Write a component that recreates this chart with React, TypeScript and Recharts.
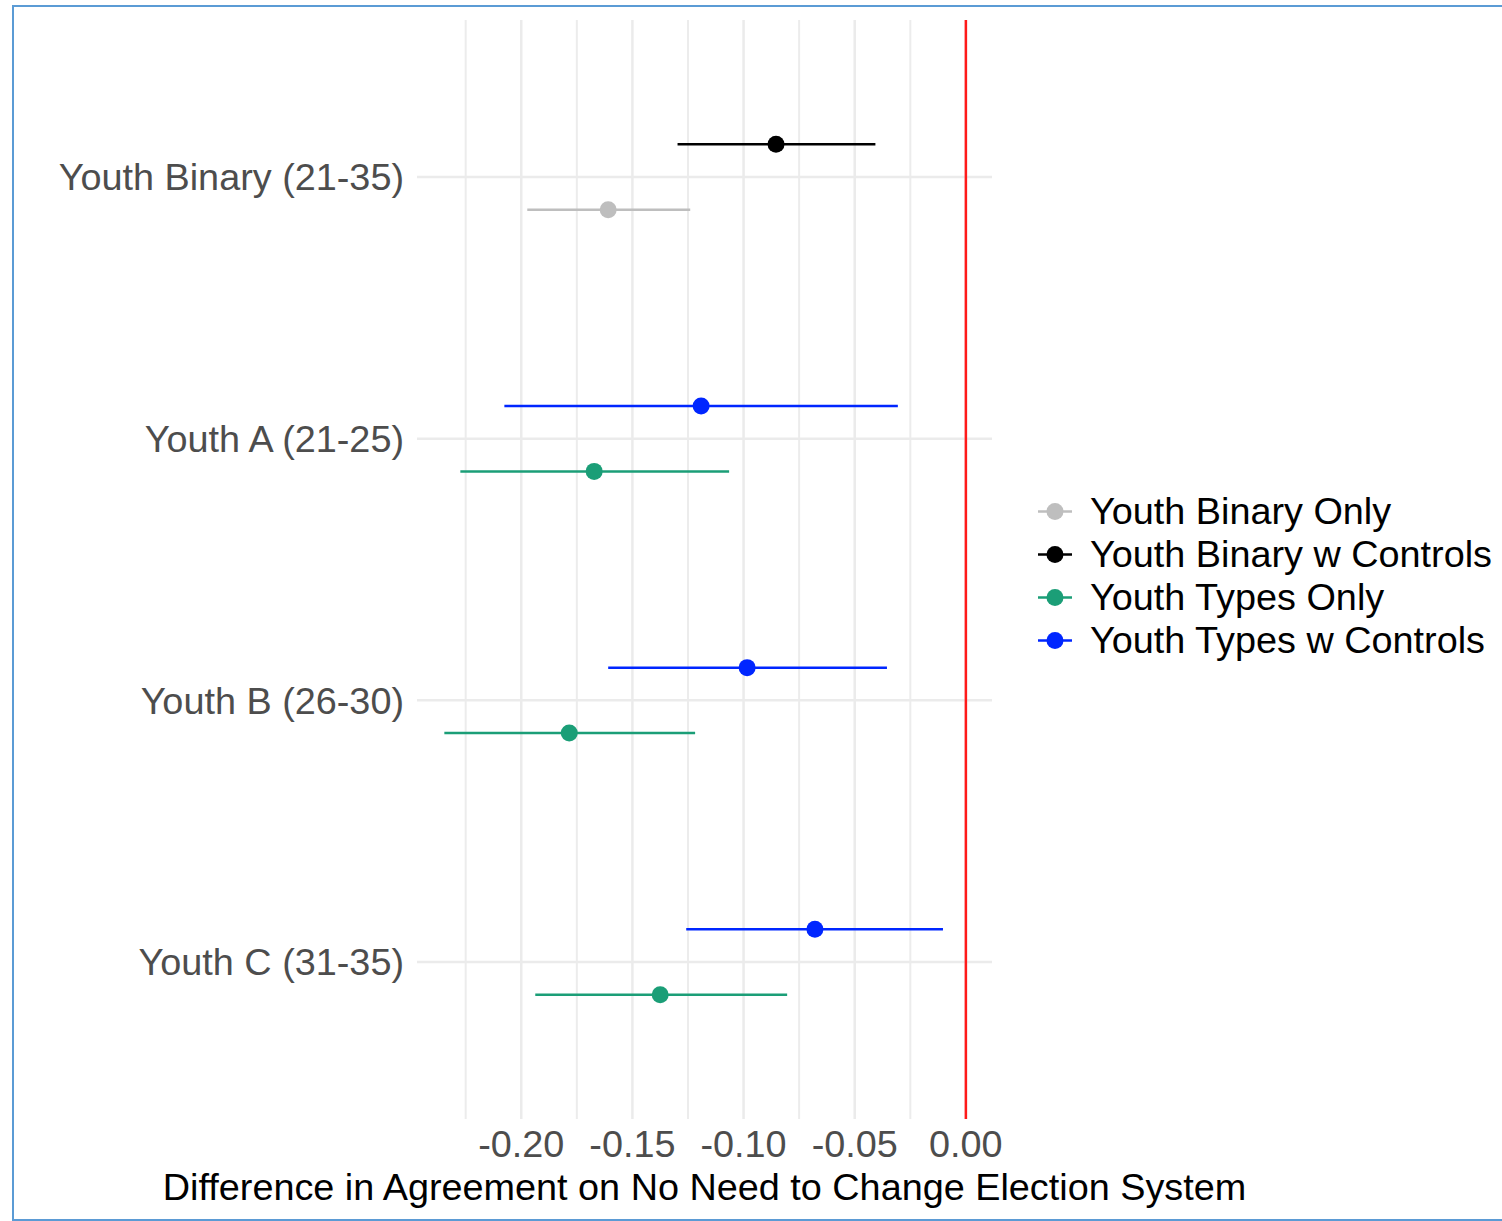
import React from 'react';
import { ScatterChart, Scatter, XAxis, YAxis, ReferenceLine, ErrorBar, Legend, Label } from 'recharts';

const CATEGORIES = ['Youth Binary (21-35)', 'Youth A (21-25)', 'Youth B (26-30)', 'Youth C (31-35)'];
const X_TICKS = [-0.2, -0.15, -0.1, -0.05, 0];
const X_MINOR = [-0.225, -0.175, -0.125, -0.075, -0.025];

const SERIES_NAMES = ['Youth Binary Only', 'Youth Binary w Controls', 'Youth Types Only', 'Youth Types w Controls'];
const SERIES_COLORS = ['#bebebe', '#000000', '#1b9e77', '#0026ff'];

// estimates and 95% interval per category (null = not estimated)
const binaryOnlyEst = [-0.1609, null, null, null];
const binaryOnlyLo = [-0.1973, null, null, null];
const binaryOnlyHi = [-0.124, null, null, null];

const binaryCtrlEst = [-0.0854, null, null, null];
const binaryCtrlLo = [-0.1297, null, null, null];
const binaryCtrlHi = [-0.0407, null, null, null];

const typesOnlyEst = [null, -0.1672, -0.1784, -0.1375];
const typesOnlyLo = [null, -0.2274, -0.2346, -0.1937];
const typesOnlyHi = [null, -0.1065, -0.1218, -0.0804];

const typesCtrlEst = [null, -0.1191, -0.0984, -0.0679];
const typesCtrlLo = [null, -0.2076, -0.1609, -0.1258];
const typesCtrlHi = [null, -0.0306, -0.0355, -0.0103];

const DODGE = 0.125;

function build(est: (number | null)[], lo: (number | null)[], hi: (number | null)[], side: number) {
  const out: { x: number; y: number; err: [number, number] }[] = [];
  est.forEach((e, i) => {
    if (e === null) return;
    const l = lo[i] as number;
    const h = hi[i] as number;
    out.push({ x: e, y: CATEGORIES.length - i + side * DODGE, err: [e - l, h - e] });
  });
  return out;
}

const seriesData = [
  build(binaryOnlyEst, binaryOnlyLo, binaryOnlyHi, -1),
  build(binaryCtrlEst, binaryCtrlLo, binaryCtrlHi, 1),
  build(typesOnlyEst, typesOnlyLo, typesOnlyHi, -1),
  build(typesCtrlEst, typesCtrlLo, typesCtrlHi, 1),
];

const FONT = '"Liberation Sans", Arial, Helvetica, sans-serif';
const FS = 37.8;

const LegendContent = () => (
  <div style={{ fontFamily: FONT, fontSize: FS, color: '#000' }}>
    {SERIES_NAMES.map((n, i) => (
      <div key={n} style={{ display: 'flex', alignItems: 'center', height: 43, whiteSpace: 'nowrap' }}>
        <svg width={50} height={43} style={{ display: 'block' }}>
          <line x1={8} x2={42} y1={21.5} y2={21.5} stroke={SERIES_COLORS[i]} strokeWidth={2.5} />
          <circle cx={25} cy={21.5} r={8.5} fill={SERIES_COLORS[i]} />
        </svg>
        <span style={{ marginLeft: 10, lineHeight: '43px' }}>{n}</span>
      </div>
    ))}
  </div>
);

export default function App() {
  return (
    <div style={{ position: 'absolute', left: 0, top: 0, width: 1502, height: 1221, background: '#fff', overflow: 'hidden' }}>
      <div style={{ position: 'absolute', left: 12, top: 5, width: 1500, height: 1216, border: '2px solid #5b9bd5', boxSizing: 'border-box' }} />
      <div style={{ position: 'absolute', left: 0, top: 0 }}>
        <ScatterChart width={1502} height={1221} margin={{ top: 20, right: 510, left: 12, bottom: 0 }}>
          <XAxis
            type="number"
            dataKey="x"
            domain={[-0.2469, 0.01175]}
            allowDataOverflow
            ticks={X_TICKS}
            tickFormatter={(v: number) => v.toFixed(2)}
            axisLine={false}
            tickLine={false}
            tickSize={0}
            tickMargin={11}
            height={102}
            tick={{ fill: '#4d4d4d', fontSize: FS, fontFamily: FONT }}
          >
            <Label
              value="Difference in Agreement on No Need to Change Election System"
              position="insideBottom"
              offset={21}
              style={{ fill: '#000', fontSize: FS, fontFamily: FONT }}
            />
          </XAxis>
          <YAxis
            type="number"
            dataKey="y"
            domain={[0.4, 4.6]}
            allowDataOverflow
            ticks={[1, 2, 3, 4]}
            tickFormatter={(v: number) => CATEGORIES[CATEGORIES.length - v]}
            axisLine={false}
            tickLine={false}
            tickSize={0}
            tickMargin={13}
            width={405}
            tick={{ fill: '#4d4d4d', fontSize: FS, fontFamily: FONT }}
          />
          {X_MINOR.map((v) => (
            <ReferenceLine key={'mn' + v} x={v} stroke="#ececec" strokeWidth={2} />
          ))}
          {X_TICKS.map((v) => (
            <ReferenceLine key={'mj' + v} x={v} stroke="#ebebeb" strokeWidth={2.5} />
          ))}
          {[1, 2, 3, 4].map((v) => (
            <ReferenceLine key={'h' + v} y={v} stroke="#ebebeb" strokeWidth={2.5} />
          ))}
          <ReferenceLine x={0} stroke="#ff1a1a" strokeWidth={2.5} />
          {seriesData.map((d, i) => (
            <Scatter
              key={SERIES_NAMES[i]}
              name={SERIES_NAMES[i]}
              data={d}
              fill={SERIES_COLORS[i]}
              isAnimationActive={false}
              shape={(p: any) => <circle cx={p.cx} cy={p.cy} r={8.5} fill={SERIES_COLORS[i]} />}
            >
              <ErrorBar dataKey="err" direction="x" width={0} stroke={SERIES_COLORS[i]} strokeWidth={2.5} />
            </Scatter>
          ))}
          <Legend
            layout="vertical"
            align="center"
            verticalAlign="middle"
            content={<LegendContent />}
            wrapperStyle={{ position: 'absolute', left: 1030, top: 490, width: 472, height: 172 }}
          />
        </ScatterChart>
      </div>
    </div>
  );
}
